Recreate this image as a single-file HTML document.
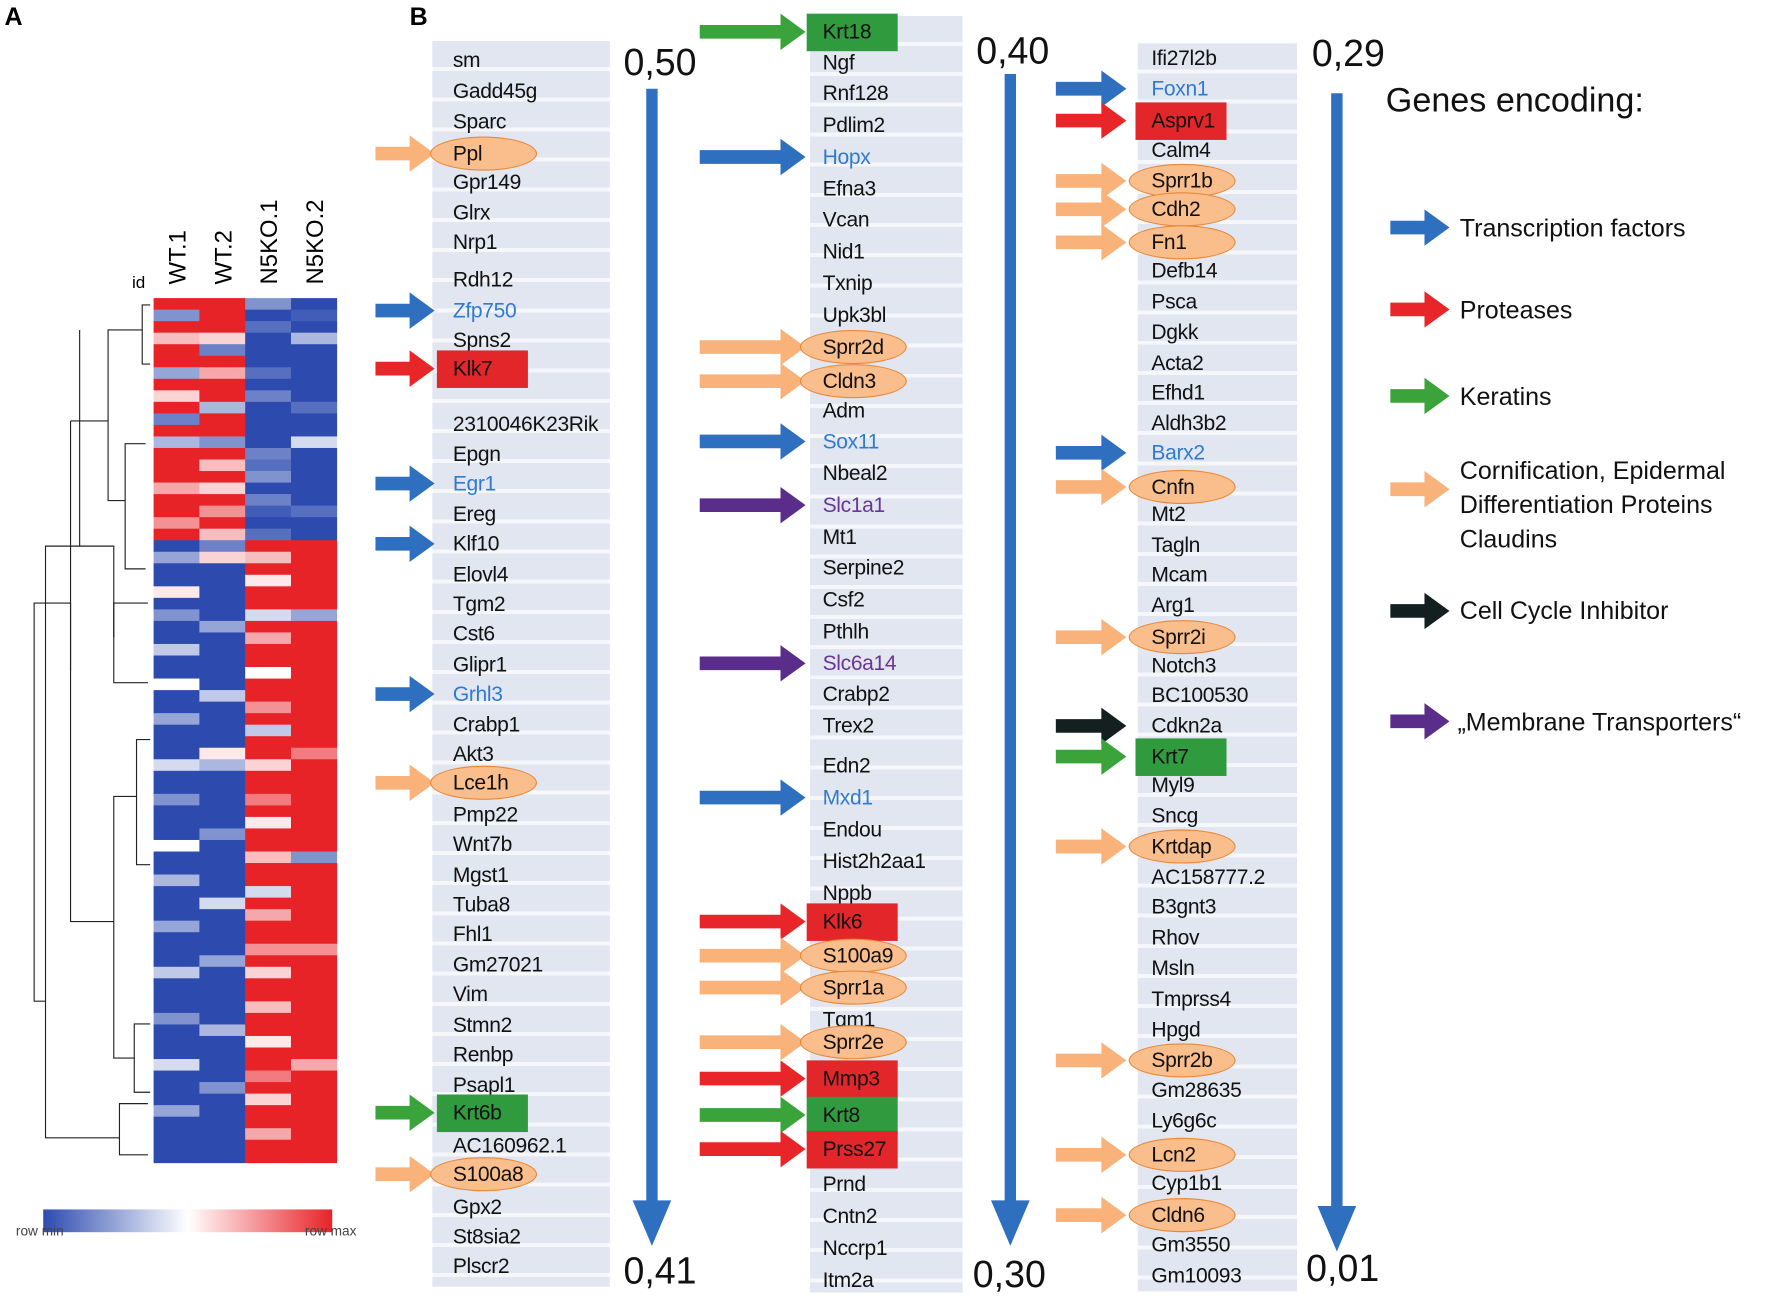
<!DOCTYPE html>
<html><head><meta charset="utf-8">
<style>
html,body{margin:0;padding:0;background:#fff;width:1784px;height:1302px;overflow:hidden}
#wrap{position:absolute;left:0;top:0;width:1568px;height:1145px;transform:scale(1.13776);transform-origin:0 0;font-family:"Liberation Sans",sans-serif}
.band{position:absolute;background:repeating-linear-gradient(#e2e6f1 0 23px,#f6f7fa 23px 26.5px)}
.lbl{position:absolute;font-size:18.5px;color:#111;white-space:nowrap;line-height:22px;letter-spacing:-0.3px}
.num{position:absolute;font-size:33px;color:#111}
.leg{position:absolute;font-size:22px;color:#111;line-height:30px}
</style></head><body>
<div id="wrap">
<div style="position:absolute;left:4px;top:2px;font-weight:bold;font-size:22px">A</div>
<div style="position:absolute;left:360px;top:2px;font-weight:bold;font-size:22px">B</div>

<svg id="hm" width="340" height="1145" style="position:absolute;left:0;top:0"></svg>

<div class="band" style="left:380px;top:36px;width:156px;height:1095px"></div>
<div class="band" style="left:712px;top:14px;width:134px;height:1122px"></div>
<div class="band" style="left:1000px;top:38px;width:140px;height:1097px"></div>

<svg id="arr" width="1568" height="1145" style="position:absolute;left:0;top:0"></svg>
<div id="genes"></div>

<div class="num" style="left:548px;top:36px">0,50</div>
<div class="num" style="left:548px;top:1098px">0,41</div>
<div class="num" style="left:858px;top:26px">0,40</div>
<div class="num" style="left:855px;top:1101px">0,30</div>
<div class="num" style="left:1153px;top:28px">0,29</div>
<div class="num" style="left:1148px;top:1096px">0,01</div>

<div class="leg" style="left:1218px;top:74px;font-size:30px">Genes encoding:</div>
<div class="leg" style="left:1283px;top:186px">Transcription factors</div>
<div class="leg" style="left:1283px;top:258px">Proteases</div>
<div class="leg" style="left:1283px;top:334px">Keratins</div>
<div class="leg" style="left:1283px;top:399px">Cornification, Epidermal<br>Differentiation Proteins<br>Claudins</div>
<div class="leg" style="left:1283px;top:522px">Cell Cycle Inhibitor</div>
<div class="leg" style="left:1281px;top:620px">„Membrane Transporters“</div>
</div>
<script>
// Heatmap data (values -1 blue .. 0 white .. 1 red), rows top->bottom
const samples=["WT.1","WT.2","N5KO.1","N5KO.2"];
const wt1=[1,-0.6,1,0.3,1,1,-0.5,1,0.2,1,-0.7,1,-0.4,1,1,1,0.4,1,1,0.5,1,
-1,-0.5,-1,-1,0.1,-1,-0.6,-1,-1,-0.3,-1,-1,0,-1,-1,-0.5,-1,-1,-1,-0.2,-1,-1,-0.6,-1,-1,-1,0,-1,-1,-0.4,-1,-1,-1,-0.5,-1,-1,-1,-0.3,-1,-1,-1,-0.6,-1,-1,-1,-0.2,-1,-1,-1,-0.5,-1,-1,-1,-1];
const wt2=[1,1,1,0.2,-0.7,1,0.4,1,1,-0.4,1,1,-0.6,1,0.3,1,0.2,1,0.5,1,0.3,
-0.7,0.2,-1,-1,-1,-1,-1,-0.5,-1,-1,-1,-1,-1,-0.3,-1,-1,-1,-1,0.1,-0.4,-1,-1,-1,-1,-1,-0.6,-1,-1,-1,-1,-1,-0.2,-1,-1,-1,-1,-0.5,-1,-1,-1,-1,-1,-0.4,-1,-1,-1,-1,-0.6,-1,-1,-1,-1,-1,-1];
const ko1=[-0.6,-1,-0.8,-1,-1,-1,-0.8,-1,-0.7,-1,-1,-1,-1,-0.7,-0.8,-0.6,-1,-0.7,-0.9,-1,-0.8,
1,0.3,1,0.1,1,1,-0.2,1,0.4,1,1,0,1,1,0.5,1,-0.3,1,1,0.2,1,1,0.6,1,0.1,1,1,0.3,1,1,-0.2,1,0.4,1,1,0.5,1,0.2,1,1,0.3,1,1,0.1,1,1,0.6,1,0.2,1,1,0.4,1,1,1];
const ko2=[-1,-0.9,-1,-0.4,-1,-1,-1,-1,-1,-0.8,-1,-1,-0.2,-1,-1,-1,-1,-1,-0.8,-1,-1,
1,1,1,1,1,1,-0.5,1,1,1,1,1,1,1,1,1,1,1,0.6,1,1,1,1,1,1,1,1,-0.6,1,1,1,1,1,1,1,0.5,1,1,1,1,1,1,1,1,1,0.4,1,1,1,1,1,1,1,1,-0.8];
const NS='http://www.w3.org/2000/svg';
function col(v){
  const b=[45,75,175],w=[255,255,255],r=[232,35,40];
  const t=Math.abs(v),c=v<0?b:r;
  return 'rgb('+c.map((x,i)=>Math.round(w[i]+(x-w[i])*t)).join(',')+')';
}
const hm=document.getElementById('hm');
const hx0=135,hx1=296,hy0=262,hy1=1022;
const xs=i=>hx0+(hx1-hx0)*i/samples.length;
const n=Math.min(wt1.length,wt2.length,ko1.length,ko2.length);
const ys=i=>hy0+(hy1-hy0)*i/n;
[wt1,wt2,ko1,ko2].forEach((arr,ci)=>{
  arr.slice(0,n).forEach((v,ri)=>{
    const r=document.createElementNS(NS,'rect');
    r.setAttribute('x',xs(ci));r.setAttribute('y',ys(ri));
    r.setAttribute('width',xs(ci+1)-xs(ci)+0.3);r.setAttribute('height',ys(ri+1)-ys(ri)+0.3);
    r.setAttribute('fill',col(v));
    
    
    hm.appendChild(r);
  });
});
samples.forEach((s,i)=>{
  const t=document.createElementNS(NS,'text');
  const x=xs(i)+(xs(i+1)-xs(i))/2+8;
  t.setAttribute('transform','translate('+x+',250) rotate(-90)');
  t.setAttribute('font-size','21');t.setAttribute('font-family','Liberation Sans, sans-serif');
  t.textContent=s;
  
  
  hm.appendChild(t);
});
hm.insertAdjacentHTML('beforeend','<text x="116" y="253" font-size="15" font-family="Liberation Sans">id</text>'+
'<g stroke="#222" stroke-width="1" fill="none">'+
'<path d="M30 700 V530 H62 V590 M30 700 V880 H40"/><path d="M62 370 V810 H100"/><path d="M62 370 H95 V290 H125 M95 370 V440 H110"/>'+
'<path d="M40 880 V480 H70 V290 M40 880 V1000 H105"/><path d="M70 480 H100 V560 M100 810 V700 H120 M100 810 V930 H118"/>'+
'<path d="M110 440 V390 H128 M110 440 V500 H128 M125 290 V268 H132 M125 290 V320 H132 M105 1000 V970 H130 M105 1000 V1015 H130"/>'+
'<path d="M118 930 V900 H132 M118 930 V960 H132 M120 700 V650 H132 M120 700 V760 H132 M100 560 V530 H130 M100 560 V600 H130"/></g>'+
'<defs><linearGradient id="cb"><stop offset="0" stop-color="#2d4bb0"/><stop offset="0.5" stop-color="#fff"/><stop offset="1" stop-color="#e82328"/></linearGradient></defs>'+
'<rect x="38" y="1063" width="254" height="20" fill="url(#cb)"/>'+
'<text x="14" y="1086" font-size="12" fill="#444" font-family="Liberation Sans">row min</text>'+
'<text x="268" y="1086" font-size="12" fill="#444" font-family="Liberation Sans">row max</text>');

// Gene lists: [name, y, type]
const col1=[["sm",53],["Gadd45g",80],["Sparc",107],["Ppl",135,"co"],["Gpr149",160],["Glrx",187],["Nrp1",213],["Rdh12",246],["Zfp750",273,"tf"],["Spns2",299],["Klk7",324,"pr"],["2310046K23Rik",373],["Epgn",399],["Egr1",425,"tf"],["Ereg",452],["Klf10",478,"tf2"],["Elovl4",505],["Tgm2",531],["Cst6",557],["Glipr1",584],["Grhl3",610,"tf"],["Crabp1",637],["Akt3",663],["Lce1h",688,"co"],["Pmp22",716],["Wnt7b",742],["Mgst1",769],["Tuba8",795],["Fhl1",821],["Gm27021",848],["Vim",874],["Stmn2",901],["Renbp",927],["Psapl1",954],["Krt6b",978,"kr"],["AC160962.1",1007],["S100a8",1032,"co"],["Gpx2",1061],["St8sia2",1087],["Plscr2",1113]];
const col2=[["Krt18",28,"kr"],["Ngf",55],["Rnf128",82],["Pdlim2",110],["Hopx",138,"tf"],["Efna3",166],["Vcan",193],["Nid1",221],["Txnip",249],["Upk3bl",277],["Sprr2d",305,"co"],["Cldn3",335,"co"],["Adm",361],["Sox11",388,"tf"],["Nbeal2",416],["Slc1a1",444,"mt"],["Mt1",472],["Serpine2",499],["Csf2",527],["Pthlh",555],["Slc6a14",583,"mt"],["Crabp2",610],["Trex2",638],["Edn2",673],["Mxd1",701,"tf"],["Endou",729],["Hist2h2aa1",757],["Nppb",785],["Klk6",810,"pr"],["S100a9",840,"co"],["Sprr1a",868,"co"],["Tgm1",896],["Sprr2e",916,"co"],["Mmp3",948,"pr"],["Krt8",980,"kr"],["Prss27",1010,"pr"],["Prnd",1041],["Cntn2",1069],["Nccrp1",1097],["Itm2a",1125]];
const col3=[["Ifi27l2b",51],["Foxn1",78,"tf"],["Asprv1",106,"pr"],["Calm4",132],["Sprr1b",159,"co"],["Cdh2",184,"co"],["Fn1",213,"co"],["Defb14",238],["Psca",265],["Dgkk",292],["Acta2",319],["Efhd1",345],["Aldh3b2",372],["Barx2",398,"tf"],["Cnfn",428,"co"],["Mt2",452],["Tagln",479],["Mcam",505],["Arg1",532],["Sprr2i",560,"co"],["Notch3",585],["BC100530",611],["Cdkn2a",638,"cc"],["Krt7",665,"kr"],["Myl9",690],["Sncg",717],["Krtdap",744,"co"],["AC158777.2",771],["B3gnt3",797],["Rhov",824],["Msln",851],["Tmprss4",878],["Hpgd",905],["Sprr2b",932,"co"],["Gm28635",958],["Ly6g6c",985],["Lcn2",1015,"co"],["Cyp1b1",1040],["Cldn6",1068,"co"],["Gm3550",1094],["Gm10093",1121]];
const colors={tf:"#2f6fc0",tf2:"#2f6fc0",pr:"#e8262a",kr:"#3aa33a",co:"#f9b27a",cc:"#142020",mt:"#5a2d8a"};
const arrSvg=document.getElementById('arr');
function arrow(x0,x1,y,c,name){
  const p=document.createElementNS(NS,'polygon');
  const h=x1-22;
  p.setAttribute('points',`${x0},${y-6} ${h},${y-6} ${h},${y-16} ${x1},${y} ${h},${y+16} ${h},${y+6} ${x0},${y+6}`);
  p.setAttribute('fill',c);
  
  
  arrSvg.appendChild(p);
}
[[573,78,1095],[888,65,1095],[1175,82,1100]].forEach(a=>{
  const p=document.createElementNS(NS,'polygon');
  const [x,y0,y1]=a;
  p.setAttribute('points',`${x-5},${y0} ${x+5},${y0} ${x+5},${y1-40} ${x+17},${y1-40} ${x},${y1} ${x-17},${y1-40} ${x-5},${y1-40}`);
  p.setAttribute('fill','#2f6fc0');
  
  
  arrSvg.appendChild(p);
});
[[200,"tf"],[272,"pr"],[348,"kr"],[430,"co"],[537,"cc"],[634,"mt"]].forEach(l=>arrow(1222,1274,l[0],colors[l[1]],'legend-arrow'));
const genesDiv=document.getElementById('genes');
function placeCol(list,tx,ax0,ax1,cname){
  list.forEach(g=>{
    const [name,y,t]=g;
    const d=document.createElement('div');
    d.className='lbl';
    d.textContent=name;
    d.style.left=tx+'px';d.style.top=(y-11)+'px';
    
    
    if(t==='tf') d.style.color='#2f7bd0';
    if(t==='mt') d.style.color='#6a3595';
    if(t==='pr'||t==='kr'){
      const b=document.createElement('div');
      b.style.cssText=`position:absolute;left:${tx-14}px;top:${y-16}px;width:80px;height:33px;background:${t==='pr'?'#e3262a':'#2f9a3e'}`;
      
      
      genesDiv.appendChild(b);
    }
    if(t==='co'){
      const e=document.createElement('div');
      e.style.cssText=`position:absolute;left:${tx-20}px;top:${y-15}px;width:92px;height:28px;border-radius:50%;background:#f9be8c;border:1.5px solid #e8893a`;
      
      
      genesDiv.appendChild(e);
    }
    genesDiv.appendChild(d);
    if(t) arrow(ax0,ax1,y,colors[t],cname+'-arrow');
  });
}
placeCol(col1,398,330,382,'col1');
placeCol(col2,723,615,708,'col2');
placeCol(col3,1012,928,990,'col3');
</script>
</body></html>
